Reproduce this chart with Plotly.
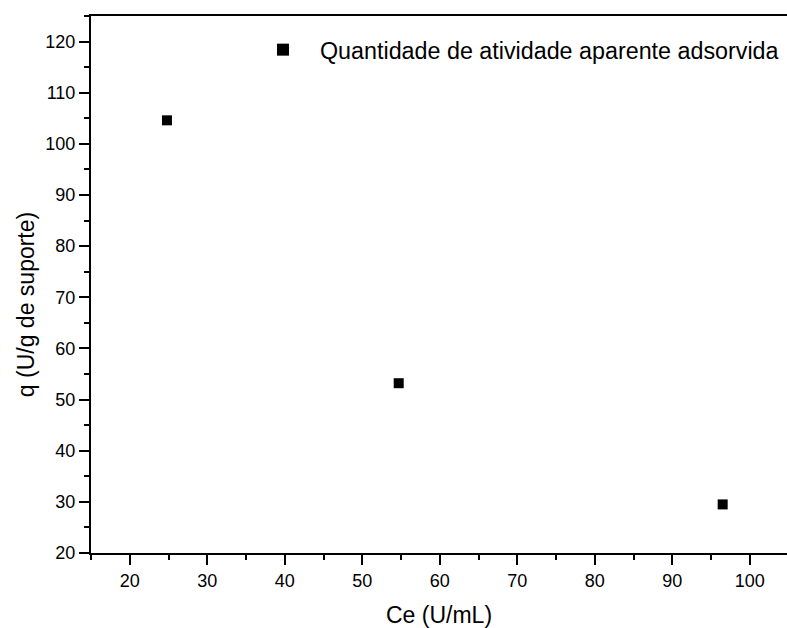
import plotly.graph_objects as go

ce = [24.8, 54.7, 96.5]
q = [104.6, 53.2, 29.5]
series_name = "Quantidade de atividade aparente adsorvida"
x_title = "Ce (U/mL)"
y_title = "q (U/g de suporte)"

FONT = "Liberation Sans, Arial, sans-serif"
W, H = 787, 628
# plot area in page pixels
PX0, PX1, PY0, PY1 = 91, 787, 16, 552.7
L, T, R = PX0, PY0, 0
B = H - PY1
pw, ph = PX1 - PX0, PY1 - PY0

def px_x(x):
    return (x - PX0) / pw

def px_y(y):
    return (PY1 - y) / ph

fig = go.Figure()
fig.add_trace(go.Scatter(x=ce, y=q, mode="markers", showlegend=False,
                         marker=dict(symbol="square", size=10, color="black")))
fig.add_trace(go.Scatter(x=[None], y=[None], mode="markers", name=series_name,
                         marker=dict(symbol="square", size=12, color="black")))

axis_common = dict(showline=True, linecolor="black", linewidth=2,
                   ticks="outside", ticklen=10, tickwidth=2, tickcolor="black",
                   showgrid=False, zeroline=False,
                   tickfont=dict(family=FONT, size=18, color="black"),
                   minor=dict(ticks="outside", ticklen=5, tickwidth=2, tickcolor="black", dtick=5, tick0=0, showgrid=False))

fig.update_xaxes(range=[15, 104.8], tick0=0, dtick=10, mirror=True, **axis_common)
fig.update_yaxes(range=[20, 125], tick0=0, dtick=10, mirror=False, **axis_common)

fig.add_annotation(text=x_title, xref="paper", yref="paper", x=0.5, y=px_y(614.5),
                   xanchor="center", yanchor="middle", showarrow=False,
                   font=dict(family=FONT, size=23, color="black"))
fig.add_annotation(text=y_title, xref="paper", yref="paper", x=px_x(26), y=px_y(305),
                   xanchor="center", yanchor="middle", showarrow=False, textangle=-90,
                   font=dict(family=FONT, size=23, color="black"))

fig.update_layout(width=W, height=H, margin=dict(l=L, r=R, t=T, b=B, autoexpand=False),
                  paper_bgcolor="white", plot_bgcolor="white",
                  legend=dict(x=px_x(283 - 37), y=px_y(28), xanchor="left", yanchor="top",
                              itemwidth=64, bgcolor="rgba(0,0,0,0)",
                              font=dict(family=FONT, size=23.3, color="black")))

fig.write_html("out.html", config={"displayModeBar": False},
               post_script="document.body.style.margin='0';document.body.style.overflow='hidden';")
